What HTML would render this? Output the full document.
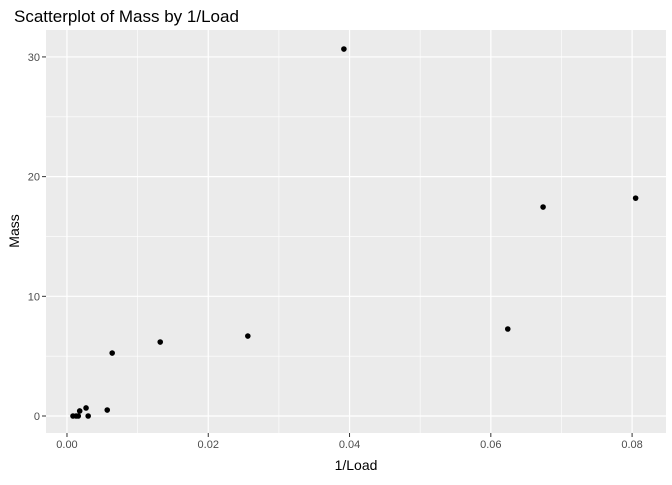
<!DOCTYPE html>
<html><head><meta charset="utf-8"><style>
body{margin:0;background:#fff;}
text{font-family:"Liberation Sans",sans-serif;}
</style></head><body>
<svg id="chart" width="672" height="480">
<text x="14" y="22" font-size="17" fill="#000">Scatterplot of Mass by 1/Load</text>
<rect x="46" y="30" width="620" height="403" fill="#ebebeb"/>
<g id="grid"></g><g id="pts"></g><g id="ticks"></g>
<text x="356" y="470" font-size="14" text-anchor="middle">1/Load</text>
<text transform="translate(19,231) rotate(-90)" font-size="14" text-anchor="middle">Mass</text>
</svg>
<script>
const invLoad=[0.00085,0.0013,0.0016,0.0018,0.0027,0.003,0.0057,0.0064,0.0132,0.0256,0.0392,0.0624,0.0674,0.0805];
const mass=[0,0,0,0.42,0.67,0,0.5,5.26,6.18,6.68,30.66,7.27,17.46,18.2];
const xTicks=[0,0.02,0.04,0.06,0.08];
const xTickLabels=["0.00","0.02","0.04","0.06","0.08"];
const yTicks=[0,10,20,30];
const yTickLabels=["0","10","20","30"];
const X0=46,X1=666,Y0=433,Y1=30,xmin=-0.00297,xmax=0.0848,ymin=-1.42,ymax=32.25;
const sx=v=>X0+(v-xmin)/(xmax-xmin)*(X1-X0);
const sy=v=>Y0-(v-ymin)/(ymax-ymin)*(Y0-Y1);
const NS="http://www.w3.org/2000/svg";
const grid=document.getElementById('grid'),pts=document.getElementById('pts'),tk=document.getElementById('ticks');
function mk(p,tag,a){const e=document.createElementNS(NS,tag);for(const k in a)e.setAttribute(k,a[k]);p.appendChild(e);return e;}
for(let i=0;i<xTicks.length;i++){
 const v=xTicks[i];
 if(i<xTicks.length-1){const m=mk(grid,'line',{x1:sx(v+0.01),x2:sx(v+0.01),y1:Y1,y2:Y0,stroke:'#fff','stroke-width':0.6});
 }
 const g=mk(grid,'line',{x1:sx(v),x2:sx(v),y1:Y1,y2:Y0,stroke:'#fff','stroke-width':1.2});
 
 const t=mk(tk,'line',{x1:sx(v),x2:sx(v),y1:Y0,y2:Y0+4,stroke:'#333'});
 
 const l=mk(tk,'text',{x:sx(v),y:Y0+15,'font-size':11,fill:'#4d4d4d','text-anchor':'middle'});l.textContent=xTickLabels[i];
 
}
for(let i=0;i<yTicks.length;i++){
 const v=yTicks[i];
 const m=mk(grid,'line',{x1:X0,x2:X1,y1:sy(v+5),y2:sy(v+5),stroke:'#fff','stroke-width':0.6});
 
 const g=mk(grid,'line',{x1:X0,x2:X1,y1:sy(v),y2:sy(v),stroke:'#fff','stroke-width':1.2});
 
 const t=mk(tk,'line',{x1:X0-4,x2:X0,y1:sy(v),y2:sy(v),stroke:'#333'});
 
 const l=mk(tk,'text',{x:X0-6,y:sy(v)+4,'font-size':11,fill:'#4d4d4d','text-anchor':'end'});l.textContent=yTickLabels[i];
 
}
for(let i=0;i<invLoad.length;i++){
 const c=mk(pts,'circle',{cx:sx(invLoad[i]),cy:sy(mass[i]),r:2.8,fill:'#000'});
 
 
}
</script>
</body></html>
